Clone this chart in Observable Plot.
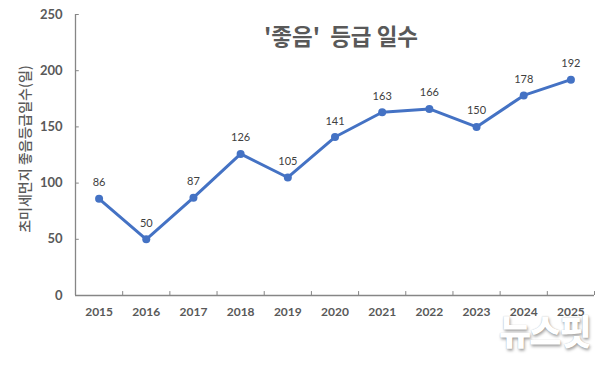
<!DOCTYPE html>
<html>
<head>
<meta charset="utf-8">
<script src="https://cdn.jsdelivr.net/npm/d3@7"></script>
<script src="https://cdn.jsdelivr.net/npm/@observablehq/plot@0.6"></script>
<style>
  html, body { margin: 0; padding: 0; background: #fff; }
  #wrap { position: relative; width: 607px; height: 372px; overflow: hidden; }
  #wm { position: absolute; left: 499px; top: 304px; font-family: "Noto Sans CJK KR", sans-serif; font-weight: 900; font-size: 35px; color: #fff; letter-spacing: -2px; text-shadow: 1px 2px 3px rgba(0,0,0,0.35), 0 0 1px rgba(0,0,0,0.25); }
</style>
</head>
<body>
<div id="wrap"></div>
<script>
const years = [2015, 2016, 2017, 2018, 2019, 2020, 2021, 2022, 2023, 2024, 2025];
const days = [86, 50, 87, 126, 105, 141, 163, 166, 150, 178, 192];
const yTicks = [0, 50, 100, 150, 200, 250];
const title = "'좋음'  등급 일수";
const yLabel = "초미세먼지 좋음등급일수(일)";
const watermark = "뉴스핏";

const data = years.map((y, i) => ({year: y, days: days[i]}));
const boundaries = years.map(y => y + 0.5);
const x0 = years[0] - 0.5;

const axisColor = "#868686";
const textColor = "#595959";

const chart = Plot.plot({
  width: 607,
  height: 372,
  marginLeft: 75,
  marginRight: 13,
  marginTop: 14,
  marginBottom: 77,
  style: {fontFamily: "Lato, 'Noto Sans CJK KR', sans-serif", background: "#fff"},
  x: {domain: [x0, years[years.length - 1] + 0.5]},
  y: {domain: [0, 250]},
  marks: [
    Plot.ruleY([0], {stroke: axisColor, strokeWidth: 1.3}),
    Plot.ruleX([x0], {stroke: axisColor, strokeWidth: 1.3}),
    Plot.ruleX(boundaries, {x: d => d, y1: 0, y2: 3.5, stroke: axisColor}),
    Plot.ruleY(yTicks, {y: d => d, x1: x0, x2: x0 + 0.08, stroke: axisColor}),
    Plot.axisX({ticks: years, tickSize: 0, tickPadding: 12, tickFormat: d => String(d), label: null, fontSize: 12, fontWeight: "bold", fill: textColor}),
    Plot.axisY({ticks: yTicks, tickSize: 0, tickPadding: 13, label: null, fontSize: 13, fontWeight: "bold", fill: textColor}),
    Plot.text([yLabel], {frameAnchor: "left", textAnchor: "middle", rotate: -90, dx: -50, dy: -6, fontSize: 14, fill: textColor, fontFamily: "'Noto Sans CJK KR', sans-serif", fontWeight: 500}),
    Plot.text([title], {frameAnchor: "top", dy: 15, dx: 6, fontSize: 22.5, fontWeight: "bold", fill: textColor, fontFamily: "'Noto Sans CJK KR', sans-serif"}),
    Plot.line(data, {x: "year", y: "days", stroke: "#4472C4", strokeWidth: 3}),
    Plot.dot(data, {x: "year", y: "days", r: 4, fill: "#4472C4", stroke: "none"}),
    Plot.text(data, {x: "year", y: "days", text: d => String(d.days), dy: -16, fontSize: 11, fill: "#404040"})
  ]
});
const wrap = document.getElementById("wrap");
wrap.appendChild(chart);
const wm = document.createElement("div");
wm.id = "wm";
wm.textContent = watermark;
wrap.appendChild(wm);
</script>
</body>
</html>
